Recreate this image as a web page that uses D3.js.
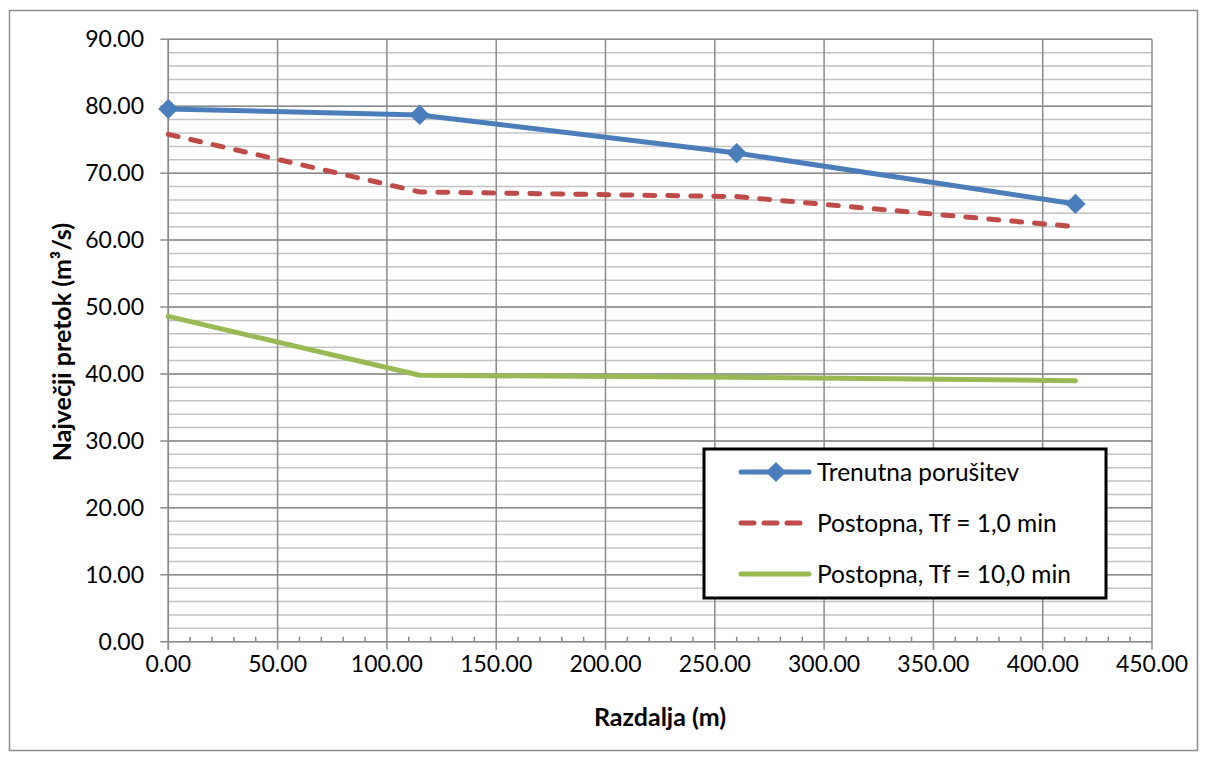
<!DOCTYPE html>
<html><head><meta charset="utf-8">
<script src="https://cdn.jsdelivr.net/npm/d3@7"></script>
<style>body{margin:0;background:#fff;font-family:Lato,"Open Sans",sans-serif;}</style>
</head><body>
<svg id="c" width="1208" height="760"></svg>
<script>
const distances = [0, 115, 260, 415];
const trenutna = [79.6, 78.7, 73.0, 65.4];
const postopna1 = [75.8, 67.2, 66.5, 62.0];
const postopna10 = [48.6, 39.8, 39.5, 39.0];
const seriesNames = ["Trenutna porušitev", "Postopna, Tf = 1,0 min", "Postopna, Tf = 10,0 min"];
const xTicks = [0, 50, 100, 150, 200, 250, 300, 350, 400, 450];
const yTicks = [0, 10, 20, 30, 40, 50, 60, 70, 80, 90];

const svg = d3.select("#c");
const L = 168.3, R = 1152, T = 39.3, B = 641.7;
const x = d3.scaleLinear().domain([0, 450]).range([L, R]);
const y = d3.scaleLinear().domain([0, 90]).range([B, T]);

svg.append("rect").attr("x", 9.5).attr("y", 10.5).attr("width", 1188).attr("height", 740)
  .attr("fill", "#fff").attr("stroke", "#8c8c8c").attr("stroke-width", 1.5);

const g = svg.append("g");
g.selectAll(".hmin").data(d3.range(0, 90.01, 2)).join("line")
  .attr("x1", L).attr("x2", R).attr("y1", d => y(d)).attr("y2", d => y(d))
  .attr("stroke", "#c3c3c3").attr("stroke-width", 1.5);
g.selectAll(".hmaj").data(yTicks).join("line")
  .attr("x1", L - 8).attr("x2", R).attr("y1", d => y(d)).attr("y2", d => y(d))
  .attr("stroke", "#8a8a8a").attr("stroke-width", 1.5);
g.selectAll(".vmaj").data(xTicks).join("line")
  .attr("x1", d => x(d)).attr("x2", d => x(d)).attr("y1", T).attr("y2", B + 8)
  .attr("stroke", "#8a8a8a").attr("stroke-width", 1.5);
g.selectAll(".vmin").data(d3.range(0, 450.01, 10).filter(d => d % 50 !== 0)).join("line")
  .attr("x1", d => x(d)).attr("x2", d => x(d)).attr("y1", B - 5).attr("y2", B)
  .attr("stroke", "#8a8a8a").attr("stroke-width", 1.5);
g.append("line").attr("x1", L).attr("x2", L).attr("y1", T).attr("y2", B + 8)
  .attr("stroke", "#8a8a8a").attr("stroke-width", 1.5);

svg.selectAll(".yl").data(yTicks).join("text")
  .attr("x", 144).attr("y", d => y(d)).attr("dy", "0.35em").attr("text-anchor", "end")
  .attr("font-size", 23).attr("fill", "#000").text(d => d.toFixed(2));
svg.selectAll(".xl").data(xTicks).join("text")
  .attr("x", d => x(d)).attr("y", 672).attr("text-anchor", "middle")
  .attr("font-size", 23).attr("fill", "#000").text(d => d.toFixed(2));

svg.append("text").attr("x", 660).attr("y", 726).attr("text-anchor", "middle")
  .attr("font-size", 25).attr("font-weight", "bold").text("Razdalja (m)");
svg.append("text").attr("transform", "translate(71,342) rotate(-90)").attr("text-anchor", "middle")
  .attr("font-size", 25).attr("font-weight", "bold").text("Največji pretok (m³/s)");

const line = d3.line().x((d, i) => x(distances[i])).y(d => y(d));
const styles = [
  {data: trenutna, color: "#4a7ebb", dash: null, ldash: null},
  {data: postopna1, color: "#be4b48", dash: "10,13", ldash: "13,10"},
  {data: postopna10, color: "#98b954", dash: null, ldash: null}
];
[2, 1, 0].forEach(i => {
  const s = styles[i];
  svg.append("path").attr("d", line(s.data)).attr("fill", "none")
    .attr("stroke", s.color).attr("stroke-width", 5).attr("stroke-linecap", "round")
    .attr("stroke-linejoin", "round").attr("stroke-dasharray", s.dash);
});
const diamond = d3.symbol().type(d3.symbolDiamond2).size(260);
svg.selectAll(".mk").data(trenutna).join("path")
  .attr("d", diamond).attr("transform", (d, i) => `translate(${x(distances[i])},${y(d)})`)
  .attr("fill", "#4a7ebb");

const lg = svg.append("g");
lg.append("rect").attr("x", 704).attr("y", 449).attr("width", 402).attr("height", 149)
  .attr("fill", "#fff").attr("stroke", "#000").attr("stroke-width", 3);
const rows = [472, 523, 574];
styles.forEach((s, i) => {
  lg.append("line").attr("x1", 741).attr("x2", 809).attr("y1", rows[i]).attr("y2", rows[i])
    .attr("stroke", s.color).attr("stroke-width", 5).attr("stroke-linecap", "round")
    .attr("stroke-dasharray", s.ldash);
  if (i === 0) lg.append("path").attr("d", diamond).attr("transform", `translate(776,${rows[i]})`).attr("fill", s.color);
  lg.append("text").attr("x", 817).attr("y", rows[i]).attr("dy", "0.35em")
    .attr("font-size", 24.5).attr("fill", "#000").text(seriesNames[i]);
});
</script>
</body></html>
